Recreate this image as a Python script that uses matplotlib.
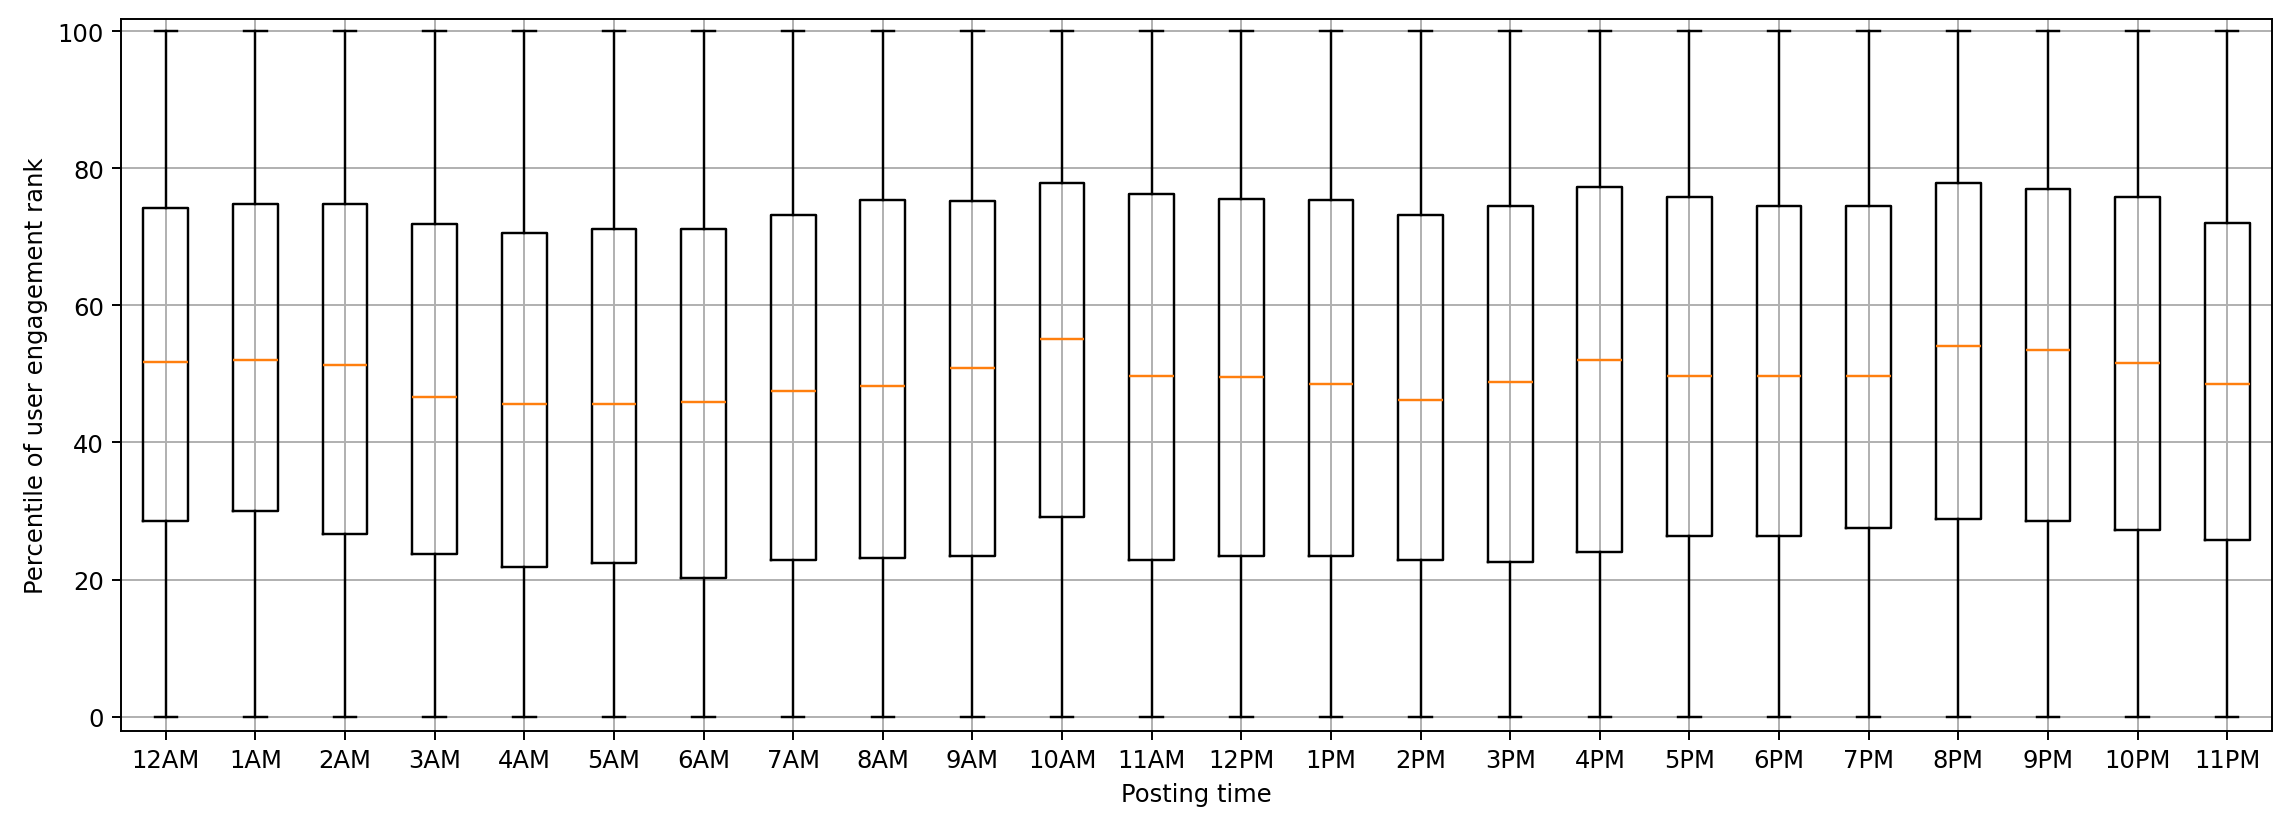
import matplotlib
matplotlib.use("Agg")
import matplotlib.pyplot as plt

labels = ["12AM", "1AM", "2AM", "3AM", "4AM", "5AM", "6AM", "7AM", "8AM", "9AM",
          "10AM", "11AM", "12PM", "1PM", "2PM", "3PM", "4PM", "5PM", "6PM", "7PM",
          "8PM", "9PM", "10PM", "11PM"]
q1 = [28.6, 30.0, 26.7, 23.8, 21.9, 22.4, 20.2, 22.9, 23.2, 23.5,
      29.1, 22.9, 23.5, 23.5, 22.9, 22.6, 24.0, 26.4, 26.4, 27.5,
      28.8, 28.6, 27.2, 25.7]
median = [51.8, 52.1, 51.3, 46.7, 45.6, 45.6, 45.9, 47.5, 48.3, 50.8,
          55.1, 49.7, 49.5, 48.5, 46.2, 48.8, 52.1, 49.7, 49.7, 49.7,
          54.1, 53.5, 51.6, 48.5]
q3 = [74.2, 74.8, 74.8, 71.9, 70.5, 71.2, 71.2, 73.2, 75.4, 75.2,
      77.8, 76.2, 75.6, 75.4, 73.2, 74.5, 77.3, 75.8, 74.5, 74.5,
      77.8, 77.0, 75.8, 72.1]
whislo = [0] * 24
whishi = [100] * 24

stats = []
for i in range(len(labels)):
    stats.append(dict(label=labels[i], q1=q1[i], med=median[i], q3=q3[i],
                      whislo=whislo[i], whishi=whishi[i], fliers=[]))

dpi = 175
W, H = 2283, 824
fig = plt.figure(figsize=(W / dpi, H / dpi), dpi=dpi)
ax = fig.add_axes([121 / W, 1 - 732 / H, (2272 - 121) / W, (732 - 20) / H])
ax.bxp(stats, showfliers=False)
ax.set_xlim(0.5, 24.5)
ax.set_ylim(-2.1, 101.8)
ax.grid(True)
ax.set_xlabel("Posting time")
ax.set_ylabel("Percentile of user engagement rank")
fig.savefig("out.png", dpi=dpi)
